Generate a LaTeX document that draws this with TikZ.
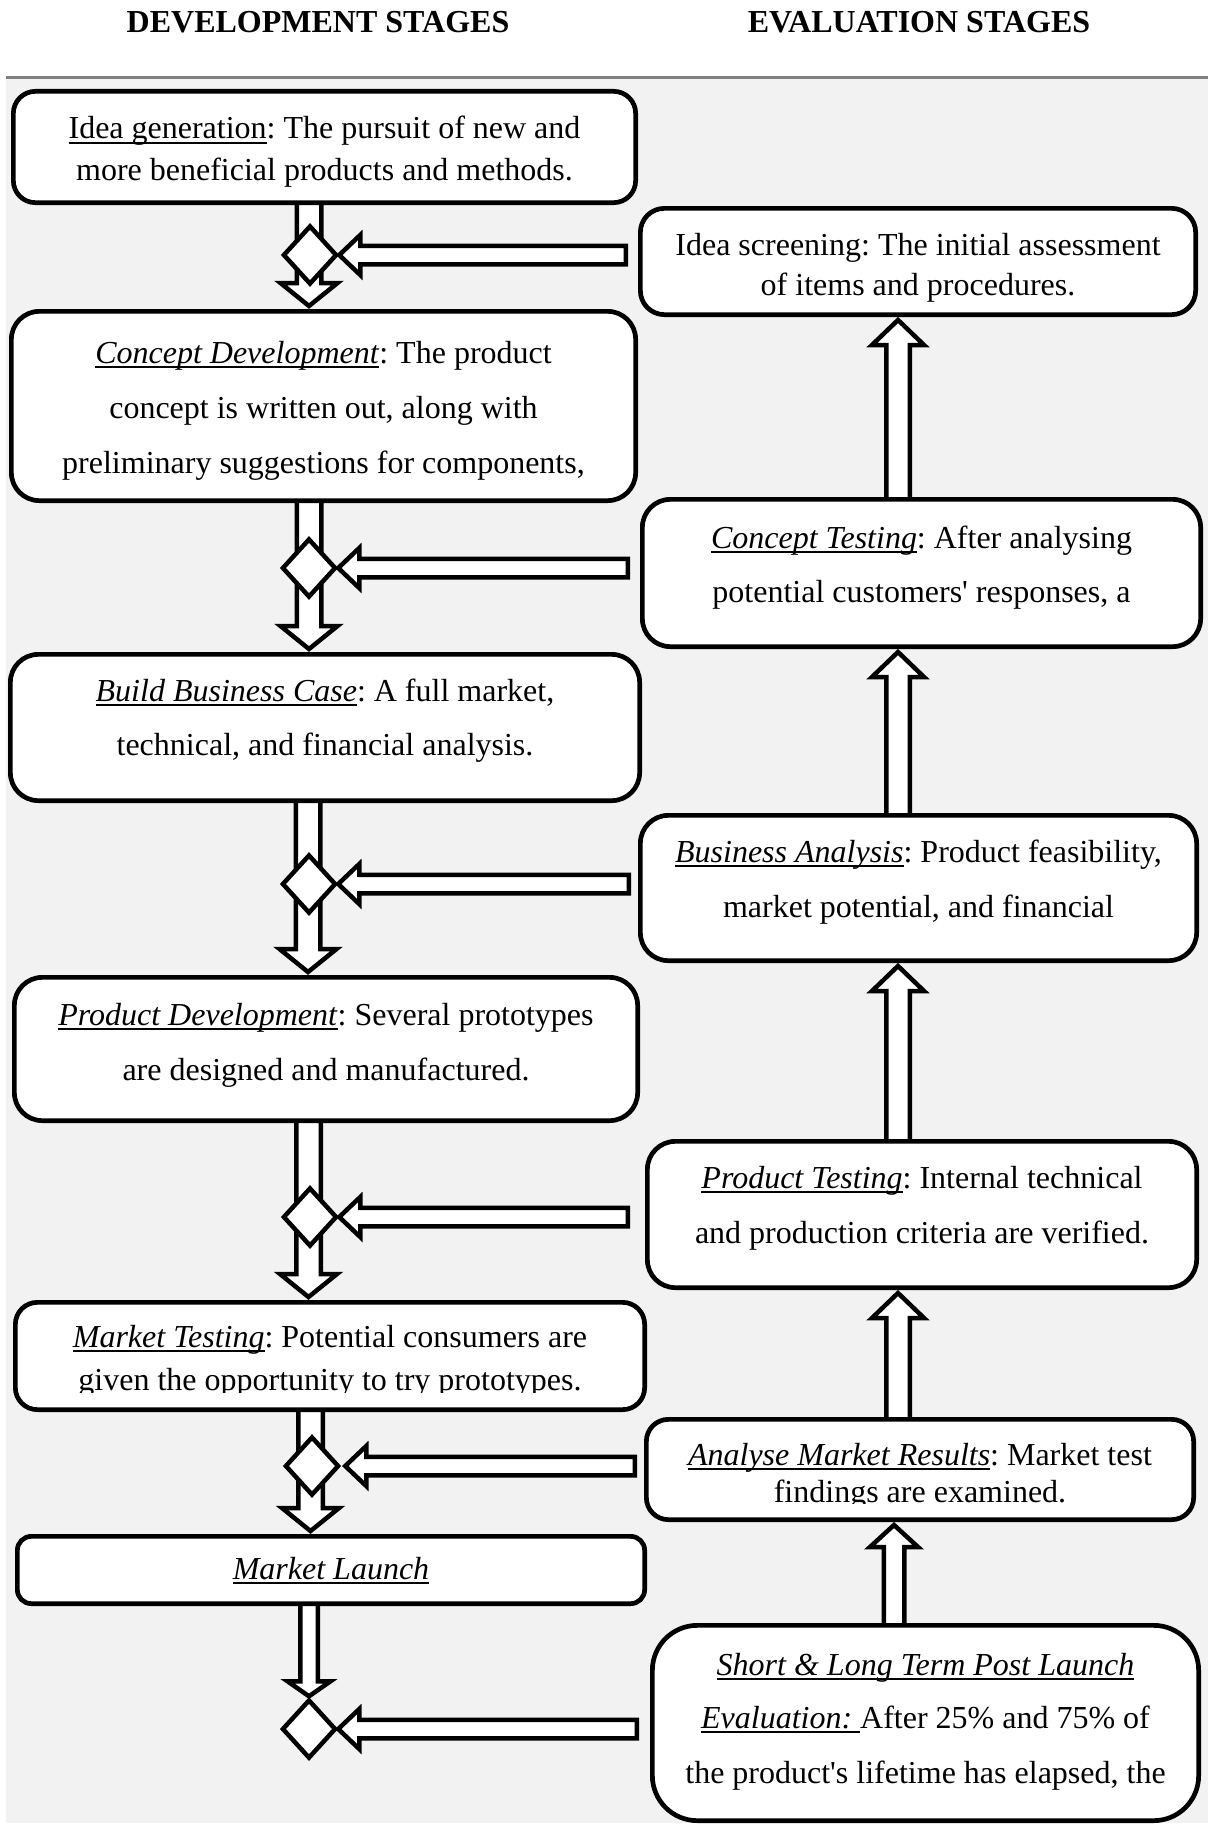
\documentclass[tikz,border=0pt]{standalone}
\usepackage{fontspec}
\setmainfont{Liberation Serif}
\usetikzlibrary{shapes.geometric,calc}

\definecolor{panelgray}{HTML}{F2F2F2}
\definecolor{rulegray}{HTML}{808080}

\pgfdeclarelayer{backdrop}
\pgfdeclarelayer{links}
\pgfsetlayers{backdrop,links,main}

% word-processor style underline at a fixed depth
\newsavebox\ulinebox
\newcommand\uln[1]{\sbox\ulinebox{#1}\rlap{\rule[-5pt]{\wd\ulinebox}{2.2pt}}\usebox\ulinebox}

\tikzset{
  stagebox/.style={draw=black, line width=4.7pt, fill=white},
  txt/.style={inner sep=0pt, outer sep=0pt, font=\fontsize{32}{38}\selectfont\frenchspacing, anchor=base},
  heading/.style={inner sep=0pt, outer sep=0pt, font=\fontsize{32}{38}\selectfont\bfseries, anchor=base},
  gate/.style={diamond, draw=black, line width=4.5pt, fill=white, inner sep=0pt,
               minimum width=54pt, minimum height=59pt},
  blockarrow/.style={draw=black, line width=4.5pt, fill=white, line join=miter},
}

% rounded stage box given its outer edges: name, x1, y1, x2, y2, corner radius
\newcommand\stage[6]{%
  \node[stagebox, rounded corners=#6pt, minimum width={#4-#2-4.7}, minimum height={#5-#3-4.7}]
    (#1) at ({(#2+#4)/2},{(#3+#5)/2}) {};}

% hollow block arrows: start point, tip point, shaft half width, head half width, head length
\newcommand\downconn[5]{%
  \draw[blockarrow] let \p1=(#1), \p2=(#2) in
    (\x2-#3pt,\y1) -- (\x2-#3pt,\y2+#5pt) -- (\x2-#4pt,\y2+#5pt) -- (\x2,\y2)
    -- (\x2+#4pt,\y2+#5pt) -- (\x2+#3pt,\y2+#5pt) -- (\x2+#3pt,\y1) -- cycle;}
\newcommand\upconn[5]{%
  \draw[blockarrow] let \p1=(#1), \p2=(#2) in
    (\x2-#3pt,\y1) -- (\x2-#3pt,\y2-#5pt) -- (\x2-#4pt,\y2-#5pt) -- (\x2,\y2)
    -- (\x2+#4pt,\y2-#5pt) -- (\x2+#3pt,\y2-#5pt) -- (\x2+#3pt,\y1) -- cycle;}
\newcommand\leftconn[5]{%
  \draw[blockarrow] let \p1=(#1), \p2=(#2) in
    (\x1,\y2+#3pt) -- (\x2+#5pt,\y2+#3pt) -- (\x2+#5pt,\y2+#4pt) -- (\x2,\y2)
    -- (\x2+#5pt,\y2-#4pt) -- (\x2+#5pt,\y2-#3pt) -- (\x1,\y2-#3pt) -- cycle;}

\begin{document}
\begin{tikzpicture}[x=1pt,y=-1pt]
\useasboundingbox (0,0) rectangle (1208,1825);

\begin{pgfonlayer}{backdrop}
  \fill[white] (0,0) rectangle (1208,1825);
  \fill[panelgray] (6,78) rectangle (1208,1823);
  \draw[rulegray, line width=3pt] (6,78) -- (1208,78);
\end{pgfonlayer}

% column headings
\node[heading] (devhead) at (318,33) {DEVELOPMENT STAGES};
\node[heading] (evalhead) at (919,33) {EVALUATION STAGES};

% development stages
\stage{b1}{11}{89}{638}{205}{22}
\stage{b2}{9}{309}{638}{503}{28}
\stage{b3}{8}{652}{642}{803}{28}
\stage{b4}{12}{975}{640}{1123}{28}
\stage{b5}{13}{1300}{647}{1412}{22}
\stage{b6}{15}{1534}{647}{1606}{14}

% evaluation stages
\stage{ra}{638}{206}{1198}{317}{24}
\stage{rb}{640}{497}{1203}{649}{28}
\stage{rc}{638}{813}{1199}{963}{28}
\stage{rd}{645}{1139}{1199}{1290}{28}
\stage{re}{644}{1417}{1196}{1522}{22}
\stage{rf}{650}{1623}{1201}{1823}{45}

\begin{pgfonlayer}{links}
  % flow down the development column
  \downconn{$(309,0 |- b1.south)+(0,-4)$}{$(309,0 |- b2.north)+(0,-3)$}{12.25}{28.5}{23}
  \downconn{$(309,0 |- b2.south)+(0,-4)$}{$(309,0 |- b3.north)+(0,-3)$}{12.25}{28.5}{23}
  \downconn{$(308,0 |- b3.south)+(0,-4)$}{$(308,0 |- b4.north)+(0,-3)$}{12.25}{28.5}{23}
  \downconn{$(308.5,0 |- b4.south)+(0,-4)$}{$(308.5,0 |- b5.north)+(0,-3)$}{12.25}{28.5}{23}
  \downconn{$(310.5,0 |- b5.south)+(0,-4)$}{$(310.5,0 |- b6.north)+(0,-3)$}{12.25}{28.5}{23}

  % decision points
  \node[gate] (d1) at (310,255) {};
  \node[gate] (d2) at (309,568) {};
  \node[gate] (d3) at (309,884) {};
  \node[gate] (d4) at (310,1217) {};
  \node[gate] (d5) at (312,1466) {};
  \node[gate] (d6) at (309,1729) {};

  \downconn{$(309,0 |- b6.south)+(0,-4)$}{$(d6.north)+(0,-1)$}{8.75}{21.5}{15}

  % evaluation feeds into each decision point
  \leftconn{$(ra.west |- d1)+(-12.25,0)$}{d1.east}{9.25}{20}{21}
  \leftconn{$(rb.west |- d2)+(-12.25,0)$}{d2.east}{9.25}{20}{21}
  \leftconn{$(rc.west |- d3)+(-9.25,0)$}{d3.east}{9.25}{20}{21}
  \leftconn{$(rd.west |- d4)+(-17.25,0)$}{d4.east}{9.25}{20}{21}
  \leftconn{$(re.west |- d5)+(-9.25,0)$}{$(d5.east)+(4,0)$}{9.25}{20}{21}
  \leftconn{$(rf.west |- d6)+(-13.25,0)$}{d6.east}{9.25}{20}{21}

  % flow up the evaluation column
  \upconn{$(898,0 |- rb.north)+(0,4)$}{$(898,0 |- ra.south)+(0,3)$}{11.75}{26}{25}
  \upconn{$(898,0 |- rc.north)+(0,4)$}{$(898,0 |- rb.south)+(0,3)$}{11.75}{26}{25}
  \upconn{$(898,0 |- rd.north)+(0,4)$}{$(898,0 |- rc.south)+(0,3)$}{11.75}{26}{25}
  \upconn{$(898,0 |- re.north)+(0,4)$}{$(898,0 |- rd.south)+(0,3)$}{11.75}{26}{25}
  \upconn{$(894,0 |- rf.north)+(0,4)$}{$(894,0 |- re.south)+(0,3)$}{10.25}{24}{22}
\end{pgfonlayer}

% box texts, development column
\node[txt] (b1-1) at (324.5,139) {\uln{Idea generation}: The pursuit of new and};
\node[txt] (b1-2) at (324.5,180) {more beneficial products and methods.};

\node[txt] (b2-1) at (323.5,363) {\uln{\textit{Concept Development}}: The product};
\node[txt] (b2-2) at (323.5,418) {concept is written out, along with};
\node[txt] (b2-3) at (323.5,473) {preliminary suggestions for components,};

\node[txt] (b3-1) at (325,701) {\uln{\textit{Build Business Case}}: A full market,};
\node[txt] (b3-2) at (325,755) {technical, and financial analysis.};

\node[txt] (b4-1) at (326,1025) {\uln{\textit{Product Development}}: Several prototypes};
\node[txt] (b4-2) at (326,1080) {are designed and manufactured.};

\node[txt] (b5-1) at (330,1347) {\uln{\textit{Market Testing}}: Potential consumers are};
\begin{scope}
  \clip (13,1300) rectangle (647,1392);
  \node[txt] (b5-2) at (330,1390) {given the opportunity to try prototypes.};
\end{scope}

\node[txt] (b6-1) at (331,1579) {\uln{\textit{Market Launch}}};

% box texts, evaluation column
\node[txt] (ra-1) at (918,255) {Idea screening: The initial assessment};
\node[txt] (ra-2) at (918,295) {of items and procedures.};

\node[txt] (rb-1) at (921.5,548) {\uln{\textit{Concept Testing}}: After analysing};
\node[txt] (rb-2) at (921.5,602) {potential customers\textquotesingle{} responses, a};

\node[txt] (rc-1) at (918.5,862) {\uln{\textit{Business Analysis}}: Product feasibility,};
\node[txt] (rc-2) at (918.5,917) {market potential, and financial};

\node[txt] (rd-1) at (922,1188) {\uln{\textit{Product Testing}}: Internal technical};
\node[txt] (rd-2) at (922,1243) {and production criteria are verified.};

\node[txt] (re-1) at (920,1465) {\uln{\textit{Analyse Market Results}}: Market test};
\begin{scope}
  \clip (644,1417) rectangle (1196,1503.5);
  \node[txt] (re-2) at (920,1502) {findings are examined.};
\end{scope}

\node[txt] (rf-1) at (925.5,1675) {\uln{\textit{Short \& Long Term Post Launch}}};
\node[txt] (rf-2) at (925.5,1728) {\uln{\textit{Evaluation: }}After 25\% and 75\% of};
\node[txt] (rf-3) at (925.5,1783) {the product\textquotesingle s lifetime has elapsed, the};

\end{tikzpicture}
\end{document}
